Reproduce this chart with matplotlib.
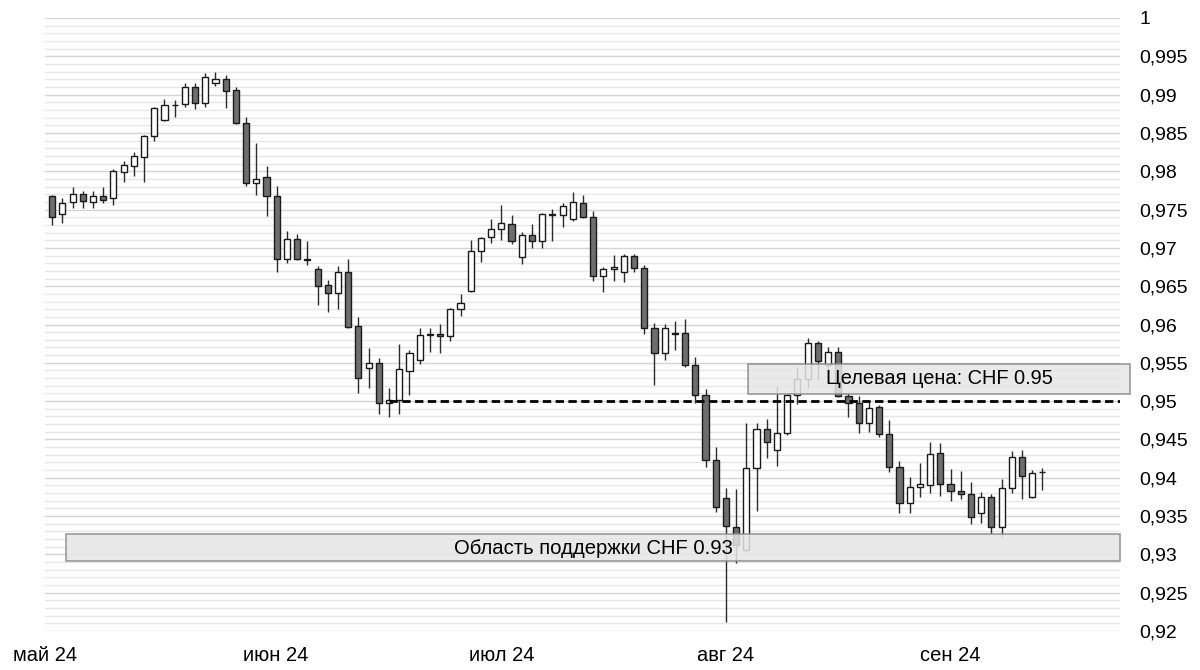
import numpy as np
import matplotlib
matplotlib.use("Agg")
import matplotlib.pyplot as plt
import matplotlib.patches as patches
from matplotlib.ticker import FuncFormatter, MultipleLocator

plt.rcParams['font.family'] = ['Liberation Sans', 'DejaVu Sans']

# daily USD/CHF candles, 1 May - 13 Sep 2024
opens = [0.9768, 0.9744, 0.9760, 0.9770, 0.9760, 0.9768, 0.9765, 0.9799, 0.9807, 0.9819,
         0.9846, 0.9867, 0.9886, 0.9888, 0.9910, 0.9889, 0.9915, 0.9920, 0.9906, 0.9863,
         0.9785, 0.9792, 0.9768, 0.9685, 0.9712, 0.9685, 0.9672, 0.9652, 0.9641, 0.9669,
         0.9598, 0.9543, 0.9550, 0.9498, 0.9501, 0.9539, 0.9554, 0.9586, 0.9587, 0.9585,
         0.9620, 0.9644, 0.9696, 0.9714, 0.9725, 0.9731, 0.9688, 0.9717, 0.9709, 0.9743,
         0.9743, 0.9738, 0.9759, 0.9740, 0.9663, 0.9672, 0.9669, 0.9689, 0.9674, 0.9595,
         0.9563, 0.9589, 0.9589, 0.9547, 0.9508, 0.9423, 0.9374, 0.9336, 0.9306, 0.9413,
         0.9464, 0.9436, 0.9458, 0.9508, 0.9529, 0.9576, 0.9547, 0.9564, 0.9507, 0.9498,
         0.9471, 0.9492, 0.9457, 0.9414, 0.9367, 0.9388, 0.9391, 0.9432, 0.9392, 0.9383,
         0.9379, 0.9354, 0.9375, 0.9336, 0.9387, 0.9427, 0.9375, 0.9407]
highs = [0.9769, 0.9765, 0.9779, 0.9774, 0.9774, 0.9779, 0.9803, 0.9813, 0.9825, 0.9847,
         0.9884, 0.9894, 0.9893, 0.9915, 0.9915, 0.9928, 0.9930, 0.9926, 0.9910, 0.9871,
         0.9837, 0.9807, 0.9781, 0.9722, 0.9718, 0.9709, 0.9676, 0.9658, 0.9676, 0.9685,
         0.9610, 0.9569, 0.9556, 0.9517, 0.9575, 0.9567, 0.9595, 0.9595, 0.9601, 0.9622,
         0.9640, 0.9710, 0.9714, 0.9738, 0.9756, 0.9743, 0.9721, 0.9731, 0.9745, 0.9751,
         0.9759, 0.9773, 0.9769, 0.9748, 0.9675, 0.9691, 0.9692, 0.9692, 0.9678, 0.9602,
         0.9601, 0.9605, 0.9607, 0.9558, 0.9516, 0.9440, 0.9387, 0.9385, 0.9471, 0.9471,
         0.9477, 0.9520, 0.9509, 0.9545, 0.9582, 0.9578, 0.9571, 0.9571, 0.9511, 0.9507,
         0.9501, 0.9495, 0.9475, 0.9422, 0.9401, 0.9419, 0.9447, 0.9445, 0.9411, 0.9409,
         0.9394, 0.9381, 0.9379, 0.9398, 0.9435, 0.9436, 0.9410, 0.9413]
lows = [0.9730, 0.9732, 0.9752, 0.9752, 0.9752, 0.9759, 0.9756, 0.9786, 0.9794, 0.9786,
        0.9839, 0.9866, 0.9871, 0.9884, 0.9881, 0.9884, 0.9911, 0.9883, 0.9862, 0.9781,
        0.9769, 0.9742, 0.9669, 0.9680, 0.9684, 0.9678, 0.9625, 0.9616, 0.9620, 0.9595,
        0.9511, 0.9517, 0.9483, 0.9479, 0.9483, 0.9508, 0.9548, 0.9564, 0.9563, 0.9578,
        0.9611, 0.9642, 0.9682, 0.9706, 0.9710, 0.9705, 0.9679, 0.9700, 0.9700, 0.9709,
        0.9727, 0.9735, 0.9739, 0.9657, 0.9642, 0.9657, 0.9655, 0.9669, 0.9588, 0.9521,
        0.9554, 0.9567, 0.9545, 0.9498, 0.9414, 0.9355, 0.9212, 0.9289, 0.9304, 0.9357,
        0.9426, 0.9415, 0.9456, 0.9496, 0.9517, 0.9528, 0.9538, 0.9505, 0.9479, 0.9458,
        0.9460, 0.9453, 0.9408, 0.9354, 0.9354, 0.9375, 0.9380, 0.9376, 0.9370, 0.9372,
        0.9340, 0.9341, 0.9327, 0.9323, 0.9380, 0.9372, 0.9374, 0.9384]
closes = [0.9740, 0.9759, 0.9770, 0.9761, 0.9768, 0.9762, 0.9800, 0.9808, 0.9820, 0.9846,
          0.9883, 0.9886, 0.9887, 0.9910, 0.9889, 0.9923, 0.9920, 0.9905, 0.9863, 0.9785,
          0.9790, 0.9768, 0.9685, 0.9712, 0.9685, 0.9684, 0.9650, 0.9641, 0.9669, 0.9597,
          0.9530, 0.9550, 0.9498, 0.9501, 0.9542, 0.9563, 0.9586, 0.9587, 0.9585, 0.9620,
          0.9628, 0.9696, 0.9713, 0.9725, 0.9732, 0.9709, 0.9717, 0.9709, 0.9744, 0.9744,
          0.9755, 0.9760, 0.9740, 0.9663, 0.9672, 0.9675, 0.9689, 0.9674, 0.9595, 0.9563,
          0.9595, 0.9588, 0.9547, 0.9508, 0.9423, 0.9362, 0.9337, 0.9312, 0.9413, 0.9464,
          0.9447, 0.9458, 0.9508, 0.9529, 0.9576, 0.9552, 0.9564, 0.9507, 0.9498, 0.9471,
          0.9491, 0.9457, 0.9414, 0.9367, 0.9388, 0.9392, 0.9431, 0.9392, 0.9383, 0.9379,
          0.9349, 0.9375, 0.9336, 0.9387, 0.9427, 0.9402, 0.9406, 0.9408]

month_labels = ['май 24', 'июн 24', 'июл 24', 'авг 24', 'сен 24']
month_pos = [-0.7, 21.9, 44.0, 66.0, 88.0]

target_price = 0.95
target_text = 'Целевая цена: CHF 0.95'
support_text = 'Область поддержки CHF 0.93'

fig = plt.figure(figsize=(12, 6.7), dpi=100)
ax = fig.add_axes([45/1200, 39/670, 1075/1200, 613/670])
ax.set_xlim(-0.49, 104.6)
ax.set_ylim(0.92, 1.0)

for s in ax.spines.values():
    s.set_visible(False)

ax.yaxis.set_major_locator(MultipleLocator(0.005))
ax.yaxis.set_minor_locator(MultipleLocator(0.001))
ax.grid(axis='y', which='major', color='#d4d4d4', lw=1)
ax.grid(axis='y', which='minor', color='#e6e6e6', lw=1)
ax.set_axisbelow(True)
ax.yaxis.tick_right()
ax.tick_params(axis='y', which='both', length=0, pad=14, labelsize=14)
ax.yaxis.set_major_formatter(FuncFormatter(
    lambda v, p: ('%.3f' % v).rstrip('0').rstrip('.').replace('.', ',')))

ax.set_xticks(month_pos)
ax.set_xticklabels(month_labels)
ax.tick_params(axis='x', length=0, pad=11, labelsize=14.5)

# candles
w = 0.6
for i in range(len(opens)):
    o, h, l, c = opens[i], highs[i], lows[i], closes[i]
    ax.vlines(i, l, h, color='#2a2a2a', lw=1, zorder=2)
    lo = min(o, c)
    hgt = max(abs(c - o), 0.00008)
    fc = '#6e6e6e' if c < o else 'white'
    ax.add_patch(patches.Rectangle((i - w/2, lo), w, hgt, fc=fc, ec='#1a1a1a', lw=1, zorder=3))

# target line
ax.hlines(target_price, 33, 104.6, colors='black', lw=2, linestyles=(0, (3, 1.6)), zorder=4)


def label_box(x0, x1, y0, y1, text, tx, ty, fs):
    box = patches.Rectangle((x0, y0), x1 - x0, y1 - y0, fc='#e6e6e6', ec='#8a8a8a',
                            lw=1.2, alpha=0.85, zorder=5, clip_on=False)
    sh = patches.Shadow(box, 2.5, -2.5, fc='#9a9a9a', alpha=0.35)
    sh.set_zorder(4.5)
    sh.set_clip_on(False)
    ax.add_patch(sh)
    ax.add_patch(box)
    ax.text(tx, ty, text, ha='center', va='center', fontsize=fs, color='black', zorder=6)


label_box(68.15, 105.6, 0.95093, 0.95484, target_text, 86.9, 0.9529, 14.4)
label_box(1.37, 104.6, 0.92913, 0.93266, support_text, 53.0, 0.9308, 14.6)

fig.savefig('out.png', dpi=100)
